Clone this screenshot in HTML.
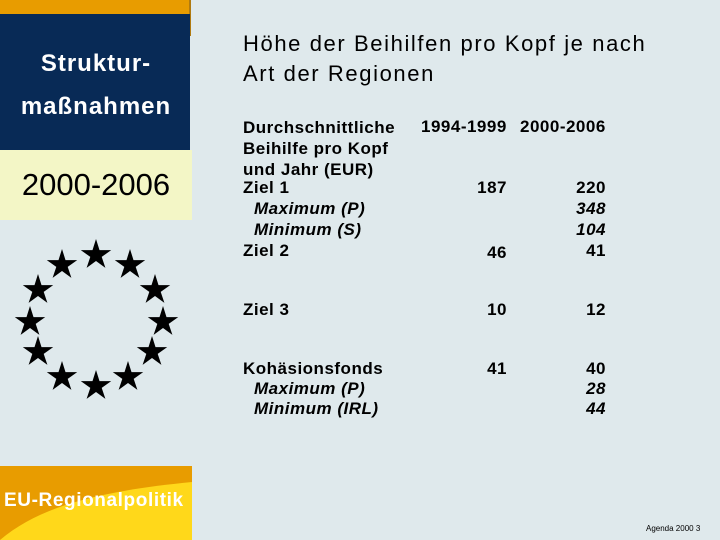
<!DOCTYPE html>
<html><head><meta charset="utf-8"><style>
body{margin:0;width:720px;height:540px;background:#dfe9ec;position:relative;overflow:hidden;font-family:"Liberation Sans",Arial,sans-serif}
div,span{position:absolute}
.t{font-size:17px;font-weight:bold;color:#000;white-space:nowrap;letter-spacing:0.5px}
.i{font-style:italic;font-weight:bold}
.r{text-align:right;width:60px}
</style></head><body>
<div style="left:0;top:0;width:190px;height:14px;background:#e89c00"></div>
<div style="left:189px;top:0;width:2px;height:36px;background:#b07a10"></div>
<div style="left:0;top:14px;width:190px;height:136px;background:#082a56"></div>
<div style="left:0;top:42px;width:192px;text-align:center;color:#fff;font-weight:bold;font-size:24px;letter-spacing:1px;line-height:43px">Struktur-<br>maßnahmen</div>
<div style="left:0;top:150px;width:192px;height:70px;background:#f3f6c6"></div>
<div style="left:0;top:167px;width:192px;text-align:center;font-size:31px;color:#000">2000-2006</div>
<svg style="position:absolute;left:0;top:230px" width="200" height="180">
<g id="s" fill="#000"></g></svg>
<div style="left:0;top:466px;width:192px;height:74px;overflow:hidden;background:#e89c00">
<svg width="192" height="74" style="position:absolute;left:0;top:0"><path d="M0,74 C40,40 100,25 192,16 L192,74 Z" fill="#ffd81a"/></svg>
<span style="left:4px;top:24px;color:#fff;font-weight:bold;font-size:19px;letter-spacing:0.6px;white-space:nowrap">EU-Regionalpolitik</span></div>
<div style="left:243px;top:29px;font-size:22px;letter-spacing:1.6px;line-height:30px;color:#000;white-space:nowrap">Höhe der Beihilfen pro Kopf je nach<br>Art der Regionen</div>
<div class="t" style="left:243px;top:117px;line-height:21px">Durchschnittliche<br>Beihilfe pro Kopf<br>und Jahr (EUR)</div>
<div class="t" style="left:421px;top:117px">1994-1999</div>
<div class="t" style="left:520px;top:117px">2000-2006</div>
<div id="rows"></div>
<div style="left:646px;top:524px;font-size:8px">Agenda 2000 3</div>
<script>
const pts=[[96,25],[62,35],[130,35],[38,60],[155,60],[30,92],[163,92],[38,122],[152,122],[62,147],[128,147],[96,156]];
const g=document.getElementById('s');
pts.forEach(([x,y])=>{const p=document.createElementNS('http://www.w3.org/2000/svg','polygon');


let a=[];for(let k=0;k<10;k++){const r=k%2?6:16,ang=-Math.PI/2+k*Math.PI/5;a.push((x+r*Math.cos(ang)).toFixed(1)+','+(y+r*Math.sin(ang)).toFixed(1));}
p.setAttribute('points',a.join(' '));g.appendChild(p);});
const labels=["Ziel 1","Maximum (P)","Minimum (S)","Ziel 2","Ziel 3","Kohäsionsfonds","Maximum (P)","Minimum (IRL)"];
const italic=[0,1,1,0,0,0,1,1];
const v1994=["187","","","46","10","41","",""];
const v2000=["220","348","104","41","12","40","28","44"];
const tops=[178,199,220,241,300,359,379,399];
const rows=document.getElementById('rows');
labels.forEach((l,i)=>{
 const d=document.createElement('div');d.className='t'+(italic[i]?' i':'');
 
 
 d.style.left=(italic[i]?254:243)+'px';d.style.top=tops[i]+'px';d.textContent=l;rows.appendChild(d);
 if(v1994[i]){const e=document.createElement('div');e.className='t r';
 
 
 e.style.left='447px';e.style.top=(i==3?243:tops[i])+'px';e.textContent=v1994[i];rows.appendChild(e);}
 const f=document.createElement('div');f.className='t r'+(italic[i]?' i':'');
 
 
 f.style.left='546px';f.style.top=tops[i]+'px';f.textContent=v2000[i];rows.appendChild(f);
});
</script>
</body></html>
